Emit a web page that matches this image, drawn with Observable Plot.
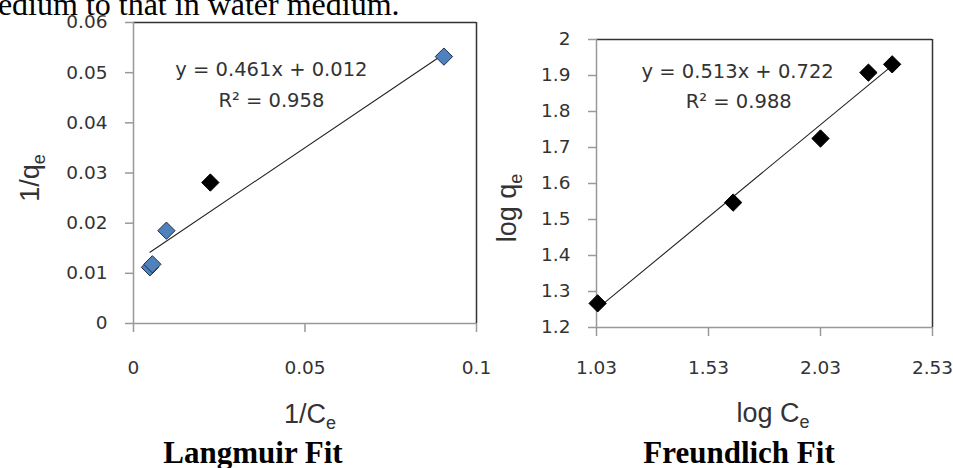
<!DOCTYPE html>
<html>
<head>
<meta charset="utf-8">
<script src="https://cdn.jsdelivr.net/npm/d3@7"></script>
<script src="https://cdn.jsdelivr.net/npm/@observablehq/plot@0.6"></script>
<style>
  html, body { margin: 0; padding: 0; background: #fff; }
  #wrap { position: relative; width: 953px; height: 468px; overflow: hidden; background: #fff; }
  .panel { position: absolute; top: 0; }
  #overlay { position: absolute; left: 0; top: 0; pointer-events: none; }
</style>
</head>
<body>
<div id="wrap">
  <div class="panel" id="left" style="left:0px"></div>
  <div class="panel" id="right" style="left:480px"></div>
  <svg id="overlay" width="953" height="468"></svg>
</div>
<script>
// ---- Langmuir data (1/Ce, 1/qe) ----
const langmuirBlueX = [0.0048, 0.0055, 0.0096, 0.0905];
const langmuirBlueY = [0.0112, 0.0118, 0.0185, 0.0532];
const langmuirBlackX = [0.0224];
const langmuirBlackY = [0.0281];
const langmuirSlope = 0.461;
const langmuirIntercept = 0.012;
const langmuirXTicks = [0, 0.05, 0.1];
const langmuirXLabels = ["0", "0.05", "0.1"];
const langmuirYTicks = [0, 0.01, 0.02, 0.03, 0.04, 0.05, 0.06];
const langmuirYLabels = ["0", "0.01", "0.02", "0.03", "0.04", "0.05", "0.06"];

// ---- Freundlich data (log Ce, log qe) ----
const freundlichX = [1.035, 1.64, 2.03, 2.244, 2.35];
const freundlichY = [1.267, 1.547, 1.725, 1.908, 1.931];
const freundlichSlope = 0.513;
const freundlichIntercept = 0.722;
const freundlichXTicks = [1.03, 1.53, 2.03, 2.53];
const freundlichXLabels = ["1.03", "1.53", "2.03", "2.53"];
const freundlichYTicks = [1.2, 1.3, 1.4, 1.5, 1.6, 1.7, 1.8, 1.9, 2.0];
const freundlichYLabels = ["1.2", "1.3", "1.4", "1.5", "1.6", "1.7", "1.8", "1.9", "2"];

const axisGray = "#999";
const frameDark = "#333";
const textCol = "#333";

function panel({xs, ys, extraX = [], extraY = [], blue, slope, intercept,
                xDomain, yDomain, xTicks, xLabels, yTicks, yLabels,
                width, height, margins, xPad, eq, r2, eqPos, r2Pos}) {
  const pts = xs.map((x, i) => ({x, y: ys[i]}));
  const extra = extraX.map((x, i) => ({x, y: extraY[i]}));
  const all = pts.concat(extra);
  const xmin = d3.min(all, d => d.x), xmax = d3.max(all, d => d.x);
  const fitX = [xmin, xmax];
  return Plot.plot({
    width, height,
    marginLeft: margins[0], marginTop: margins[1], marginRight: margins[2], marginBottom: margins[3],
    style: {fontFamily: "DejaVu Sans", fontSize: "18.5px", background: "transparent", overflow: "visible", maxWidth: "none", color: textCol},
    x: {domain: xDomain},
    y: {domain: yDomain},
    marks: [
      Plot.ruleY([yDomain[1]], {stroke: frameDark, strokeWidth: 1.5}),
      Plot.ruleX([xDomain[1]], {stroke: frameDark, strokeWidth: 1.5}),
      Plot.ruleX([xDomain[0]], {stroke: axisGray, strokeWidth: 1.5}),
      Plot.ruleY([yDomain[0]], {stroke: axisGray, strokeWidth: 1.5}),
      Plot.axisY({ticks: yTicks, tickFormat: (d, i) => yLabels[i], tickSize: 8, tickPadding: 18, stroke: axisGray, strokeWidth: 1.5, fill: textCol, label: null}),
      Plot.axisX({ticks: xTicks, tickFormat: (d, i) => xLabels[i], tickSize: 9, tickPadding: xPad, stroke: axisGray, strokeWidth: 1.5, fill: textCol, label: null}),
      Plot.line(fitX, {x: d => d, y: d => slope * d + intercept, stroke: "#222", strokeWidth: 1.1}),
      Plot.dot(pts, {x: "x", y: "y", symbol: "diamond2", r: 7.8,
        fill: blue ? "#4F81BD" : "#000", stroke: blue ? "#1f2f4a" : "#000", strokeWidth: 1}),
      Plot.dot(extra, {x: "x", y: "y", symbol: "diamond2", r: 7.8, fill: "#000", stroke: "#000", strokeWidth: 1}),
      Plot.text([eq], {x: eqPos[0], y: eqPos[1], text: d => d, fontSize: 19.5, fill: textCol}),
      Plot.text([r2], {x: r2Pos[0], y: r2Pos[1], text: d => d, fontSize: 19.5, fill: textCol})
    ]
  });
}

document.getElementById("left").appendChild(panel({
  xs: langmuirBlueX, ys: langmuirBlueY, extraX: langmuirBlackX, extraY: langmuirBlackY, blue: true,
  slope: langmuirSlope, intercept: langmuirIntercept,
  xDomain: [0, 0.1], yDomain: [0, 0.06],
  xTicks: langmuirXTicks, xLabels: langmuirXLabels, yTicks: langmuirYTicks, yLabels: langmuirYLabels,
  width: 500, height: 440, margins: [133, 22, 24, 117], xPad: 28,
  eq: "y = 0.461x + 0.012", r2: "R² = 0.958", eqPos: [0.0402, 0.0506], r2Pos: [0.0402, 0.0444]
}));

document.getElementById("right").appendChild(panel({
  xs: freundlichX, ys: freundlichY, blue: false,
  slope: freundlichSlope, intercept: freundlichIntercept,
  xDomain: [1.03, 2.53], yDomain: [1.2, 2.0],
  xTicks: freundlichXTicks, xLabels: freundlichXLabels, yTicks: freundlichYTicks, yLabels: freundlichYLabels,
  width: 473, height: 440, margins: [116, 39, 21, 113], xPad: 24,
  eq: "y = 0.513x + 0.722", r2: "R² = 0.988", eqPos: [1.66, 1.911], r2Pos: [1.665, 1.828]
}));

// ---- overlay texts: page sentence, axis titles, panel captions ----
const ov = d3.select("#overlay");
ov.append("text").attr("x", -27).attr("y", 15)
  .attr("font-family", "Liberation Serif, Times New Roman, serif").attr("font-size", 32).attr("fill", "#000")
  .text("medium to that in water medium.");

function axisTitle(x, y, main, sub, rotate) {
  const t = ov.append("text")
    .attr("transform", `translate(${x},${y})` + (rotate ? " rotate(-90)" : ""))
    .attr("text-anchor", "middle")
    .attr("font-family", "Liberation Sans, Arial, sans-serif").attr("font-size", 27).attr("fill", "#333");
  t.append("tspan").text(main);
  t.append("tspan").attr("font-size", 18).attr("dy", 6).text(sub);
}
axisTitle(310, 423, "1/C", "e", false);
axisTitle(773, 422, "log C", "e", false);
axisTitle(39, 178, "1/q", "e", true);
axisTitle(516, 208, "log q", "e", true);

function caption(x, text) {
  ov.append("text").attr("x", x).attr("y", 463).attr("text-anchor", "middle")
    .attr("font-family", "Liberation Serif, Times New Roman, serif").attr("font-weight", "bold")
    .attr("font-size", 31).attr("fill", "#000").text(text);
}
caption(253, "Langmuir Fit");
caption(739, "Freundlich Fit");
</script>
</body>
</html>
